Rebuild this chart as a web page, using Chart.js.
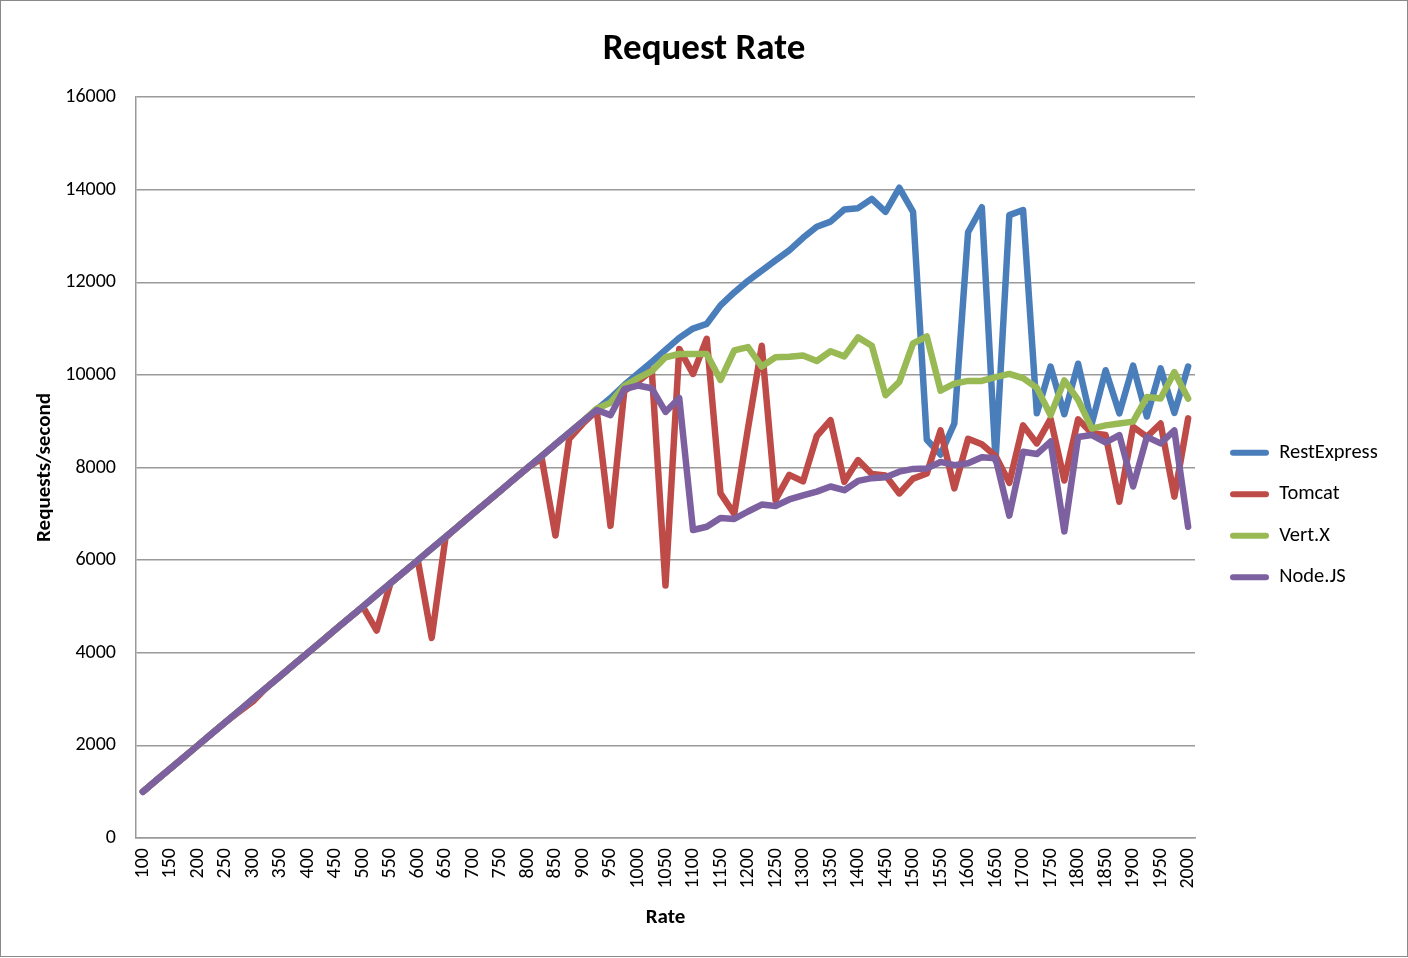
<!DOCTYPE html>
<html>
<head>
<meta charset="utf-8">
<script src="https://cdn.jsdelivr.net/npm/chart.js@4.4.1/dist/chart.umd.min.js"></script>
<style>
  html, body { margin: 0; padding: 0; background: #ffffff; }
  #wrap { position: relative; width: 1408px; height: 958px; }
  #frame { position: absolute; left: 0; top: 0; width: 1406px; height: 955px; border: 1px solid #8a8a8a; pointer-events: none; }
  canvas { display: block; }
</style>
</head>
<body>
<div id="wrap">
  <canvas id="c" width="1408" height="958"></canvas>
  <div id="frame"></div>
</div>
<script>
// ---- data ----
const rates = [100,125,150,175,200,225,250,275,300,325,350,375,400,425,450,475,500,525,550,575,600,625,650,675,700,725,750,775,800,825,850,875,900,925,950,975,1000,1025,1050,1075,1100,1125,1150,1175,1200,1225,1250,1275,1300,1325,1350,1375,1400,1425,1450,1475,1500,1525,1550,1575,1600,1625,1650,1675,1700,1725,1750,1775,1800,1825,1850,1875,1900,1925,1950,1975,2000];

const restExpress = [1000,1250,1500,1750,2000,2250,2500,2750,3000,3250,3500,3750,4000,4250,4500,4750,5000,5250,5500,5750,6000,6250,6500,6750,7000,7250,7500,7750,8000,8250,8500,8750,9000,9250,9500,9780,10030,10280,10540,10800,11000,11100,11500,11780,12030,12250,12470,12690,12960,13200,13310,13570,13600,13800,13520,14040,13520,8600,8280,8950,13080,13620,8150,13450,13560,9170,10180,9150,10240,8950,10100,9170,10200,9100,10140,9180,10180];

const tomcat = [1000,1250,1500,1750,2000,2250,2500,2730,2950,3250,3500,3750,4000,4250,4500,4750,4990,4480,5500,5750,5980,4320,6480,6750,7000,7250,7500,7750,8000,8200,6530,8620,8950,9230,6740,9650,9850,10100,5450,10560,10020,10780,7440,7000,8850,10630,7300,7840,7700,8680,9020,7690,8160,7860,7830,7440,7760,7870,8800,7550,8620,8500,8250,7670,8910,8520,9050,7720,9040,8740,8700,7260,8880,8660,8950,7370,9060];

const vertx = [1000,1250,1500,1750,2000,2250,2500,2750,3000,3250,3500,3750,4000,4250,4500,4750,5000,5250,5500,5750,6000,6250,6500,6750,7000,7250,7500,7750,8000,8250,8500,8750,9000,9270,9400,9760,9930,10080,10380,10450,10450,10450,9890,10530,10600,10180,10380,10390,10420,10300,10510,10400,10810,10630,9560,9850,10680,10830,9660,9810,9870,9870,9950,10020,9930,9720,9130,9880,9460,8840,8910,8950,8990,9520,9490,10060,9490];

const nodejs = [1000,1250,1500,1750,2000,2250,2500,2750,3000,3250,3500,3750,4000,4250,4500,4750,5000,5250,5500,5750,6000,6250,6500,6750,7000,7250,7500,7750,8000,8250,8500,8750,9000,9240,9130,9690,9770,9710,9200,9500,6650,6720,6910,6890,7050,7200,7170,7310,7400,7480,7590,7510,7710,7770,7790,7910,7970,7980,8120,8050,8090,8220,8200,6960,8340,8290,8560,6620,8660,8700,8540,8700,7590,8660,8520,8800,6720];

const seriesNames = ['RestExpress', 'Tomcat', 'Vert.X', 'Node.JS'];
const seriesColors = ['#4A7EBB', '#BE4B48', '#98B954', '#7D60A0'];
const yTicks = [0, 2000, 4000, 6000, 8000, 10000, 12000, 14000, 16000];

// ---- chart ----
const FONT = 'Carlito, Calibri, Lato, sans-serif';
const seriesData = [restExpress, tomcat, vertx, nodejs];

const legendWidthPlugin = {
  id: 'legendWidth',
  afterInit(chart) {
    const lg = chart.legend;
    if (!lg) return;
    const orig = lg.fit.bind(lg);
    lg.fit = function () { orig(); this.width = 199; };
  }
};

new Chart(document.getElementById('c'), {
  type: 'line',
  data: {
    labels: rates,
    datasets: seriesNames.map((name, i) => ({
      label: name,
      data: seriesData[i],
      borderColor: seriesColors[i],
      backgroundColor: seriesColors[i],
      borderWidth: 6.5,
      pointRadius: 0,
      pointHoverRadius: 0,
      tension: 0,
      fill: false,
      borderJoinStyle: 'round',
      borderCapStyle: 'round',
      order: seriesNames.length - 1 - i
    }))
  },
  plugins: [legendWidthPlugin],
  options: {
    responsive: false,
    animation: false,
    events: [],
    layout: { padding: { left: 0, right: 0, top: 0, bottom: 0 } },
    plugins: {
      title: {
        display: true,
        text: 'Request Rate',
        color: '#000',
        font: { family: FONT, size: 37, weight: 'bold' },
        padding: { top: 28, bottom: 24.6 }
      },
      legend: {
        position: 'right',
        title: { display: true, text: ' ', font: { size: 60 }, padding: 0 },
        labels: {
          color: '#000',
          font: { family: FONT, size: 20.5 },
          boxWidth: 39,
          boxHeight: 6,
          padding: 21,
          useBorderRadius: true,
          borderRadius: 3,
          sort: (a, b) => a.datasetIndex - b.datasetIndex,
          generateLabels(chart) {
            return chart.data.datasets.map((ds, i) => ({
              text: ds.label,
              fillStyle: ds.borderColor,
              strokeStyle: ds.borderColor,
              lineWidth: 0,
              hidden: false,
              datasetIndex: i,
              fontColor: '#000',
              borderRadius: 3
            }));
          }
        }
      },
      tooltip: { enabled: false }
    },
    scales: {
      x: {
        type: 'category',
        offset: true,
        grid: { display: false, drawTicks: false },
        border: { display: true, color: '#9a9a9a', width: 1.5 },
        ticks: {
          autoSkip: false,
          minRotation: 90,
          maxRotation: 90,
          padding: 10,
          color: '#000',
          font: { family: FONT, size: 20 },
          callback(value, index) { return index % 2 === 0 ? String(rates[index]) : ''; }
        },
        title: {
          display: true,
          text: 'Rate',
          color: '#000',
          font: { family: FONT, size: 21, weight: 'bold' },
          padding: { top: 0, bottom: 27.5 }
        },
        afterFit(scale) { scale.height = 120; }
      },
      y: {
        min: 0,
        max: 16000,
        afterBuildTicks(scale) { scale.ticks = yTicks.map(v => ({ value: v })); },
        grid: { color: '#9a9a9a', lineWidth: 1.5, drawTicks: false },
        border: { display: true, color: '#9a9a9a', width: 1.5 },
        ticks: {
          padding: 20,
          color: '#000',
          font: { family: FONT, size: 20 },
          callback(value) { return String(value); }
        },
        title: {
          display: true,
          text: 'Requests/second',
          color: '#000',
          font: { family: FONT, size: 21, weight: 'bold' },
          padding: { top: 32.4, bottom: 0 }
        },
        afterFit(scale) { scale.width = 136; }
      },
      yGap: {
        position: 'right',
        display: true,
        grid: { display: false, drawTicks: false },
        border: { display: false },
        ticks: { display: false },
        afterFit(scale) { scale.width = 14; }
      }
    }
  }
});
</script>
</body>
</html>
